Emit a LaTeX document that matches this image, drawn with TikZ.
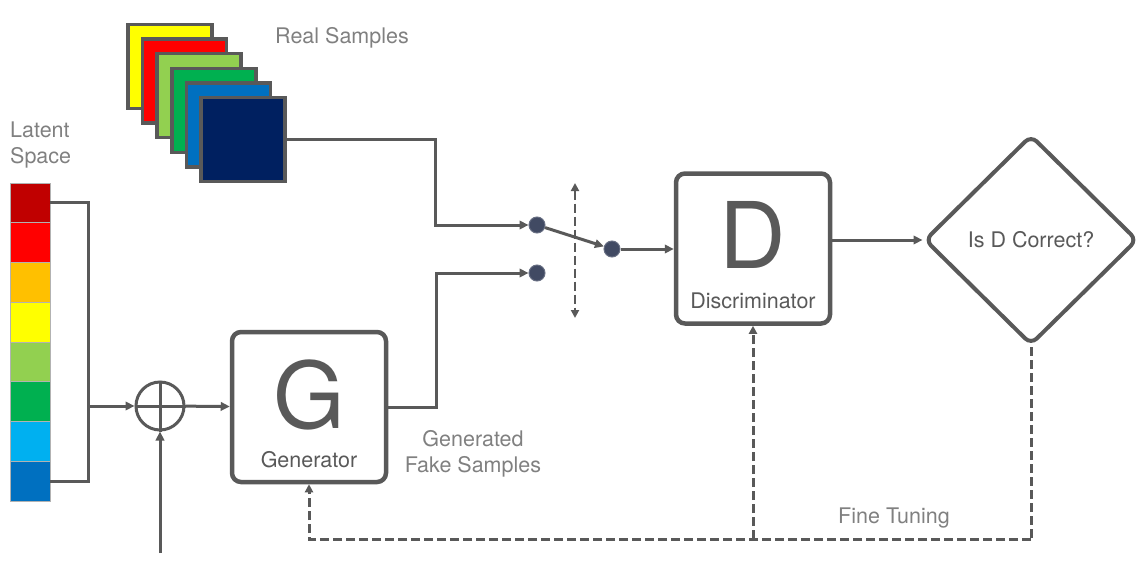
\documentclass[tikz,border=0pt]{standalone}
\usepackage{fontspec}
\setmainfont{TeX Gyre Heros}
\usetikzlibrary{arrows.meta,shapes.geometric,positioning}
\definecolor{wire}{HTML}{595959}
\definecolor{lbl}{HTML}{808080}
\definecolor{pin}{HTML}{414A63}
\begin{document}
\begin{tikzpicture}[
			x=1pt,y=-1pt,
			font=\fontsize{21.5}{26}\selectfont,
			arr/.style={draw=wire,line width=3pt,-{Triangle[length=9pt,width=8.5pt]}},
			fb/.style={draw=wire,line width=3pt,dash pattern=on 9pt off 4pt},
			blk/.style={rectangle,draw=wire,line width=4.5pt,rounded corners=9pt,minimum width=154pt,minimum height=150pt,inner sep=0pt},
			smp/.style={rectangle,draw=wire,line width=3.5pt,minimum size=84pt,inner sep=0pt},
			cell/.style={rectangle,draw=black!30,line width=0.6pt,minimum width=40pt,minimum height=39.75pt,inner sep=0pt},
			dot/.style={circle,fill=pin,draw=pin!80!white,line width=1pt,minimum size=16pt,inner sep=0pt},
			note/.style={text=lbl,inner sep=0pt},
			big/.style={text=wire,font=\fontsize{92}{92}\selectfont,inner sep=0pt,anchor=base},
			]
			\useasboundingbox (0,0) rectangle (1146,584);
			\foreach \c [count=\i from 0] in {FFFF00,FF0000,92D050,00B050,0070C0,002060}{
				\definecolor{sc}{HTML}{\c}
				\node [smp,fill=sc] (s\i) at (170+14.6*\i,66.5+14.6*\i) {};
			}
			\node [note,anchor=base west] at (275,43) {Real Samples};
			\node [note,anchor=base west,align=left] at (10,163) {Latent\\Space};
			\foreach \c [count=\i] in {C00000,FF0000,FFC000,FFFF00,92D050,00B050,00B0F0,0070C0}{
				\definecolor{lc}{HTML}{\c}
				\node [cell,fill=lc] (lat\i) at (30,163.1+39.75*\i) {};
			}
			\node [circle,draw=wire,line width=3pt,minimum size=48pt,inner sep=0pt] (plus) at (160,406) {};
			\draw [wire,line width=3pt] (plus.north) -- (plus.south) (plus.west) -- (plus.east);
			\node [blk] (gen) at (309,407) {};
			\node [big] at (309,428) {G};
			\node [text=wire,inner sep=0pt,anchor=base] at (309,467) {Generator};
			\node [note,align=center,anchor=base] at (473,472) {Generated\\Fake Samples};
			\node [dot] (swa) at (537,225) {};
			\node [dot] (swb) at (537,273) {};
			\node [dot] (swo) at (612,249) {};
			\node [blk] (disc) at (753,248.5) {};
			\node [big] at (753,268) {D};
			\node [text=wire,inner sep=0pt,anchor=base] at (753,308) {Discriminator};
			\node [diamond,draw=wire,line width=4pt,rounded corners=8pt,minimum width=213pt,minimum height=210pt,inner sep=0pt,text=wire] (check) at (1031,240) {Is D Correct?};
			\coordinate (mid) at (88,406);
			\coordinate (noise) at (160,553);
			\coordinate (tgt) at (575,183);
			\coordinate (tgb) at (575,318);
			\draw [wire,line width=3pt] (lat1.east) -| (mid) |- (lat8.east);
			\draw [arr] (mid) -- (plus);
			\draw [arr] (noise) -- (plus);
			\draw [arr] (plus) -- (gen);
			\draw [arr] (s5.east) -- ++(149,0) |- (swa);
			\draw [arr] (gen.east) -- ++(48,0) |- (swb);
			\draw [arr] (swa) -- (swo);
			\draw [arr] (swo) -- (disc.west |- swo);
			\draw [fb,line width=2.5pt,{Triangle[length=8pt,width=8pt]}-{Triangle[length=8pt,width=8pt]}] (tgt) -- (tgb);
			\draw [arr] (disc.east |- check) -- (check.west);
			\path (check.south) ++(0,192) coordinate (fbr);
			\draw [fb] (check.south) -- (fbr);
			\draw [fb,-{Triangle[length=8pt,width=8pt]}] (fbr) -| (gen.south);
			\draw [fb,-{Triangle[length=8pt,width=8pt]}] (disc.south |- fbr) -- (disc.south);
			\node [note,anchor=base] at (894,523) {Fine Tuning};
		\end{tikzpicture}
\end{document}
